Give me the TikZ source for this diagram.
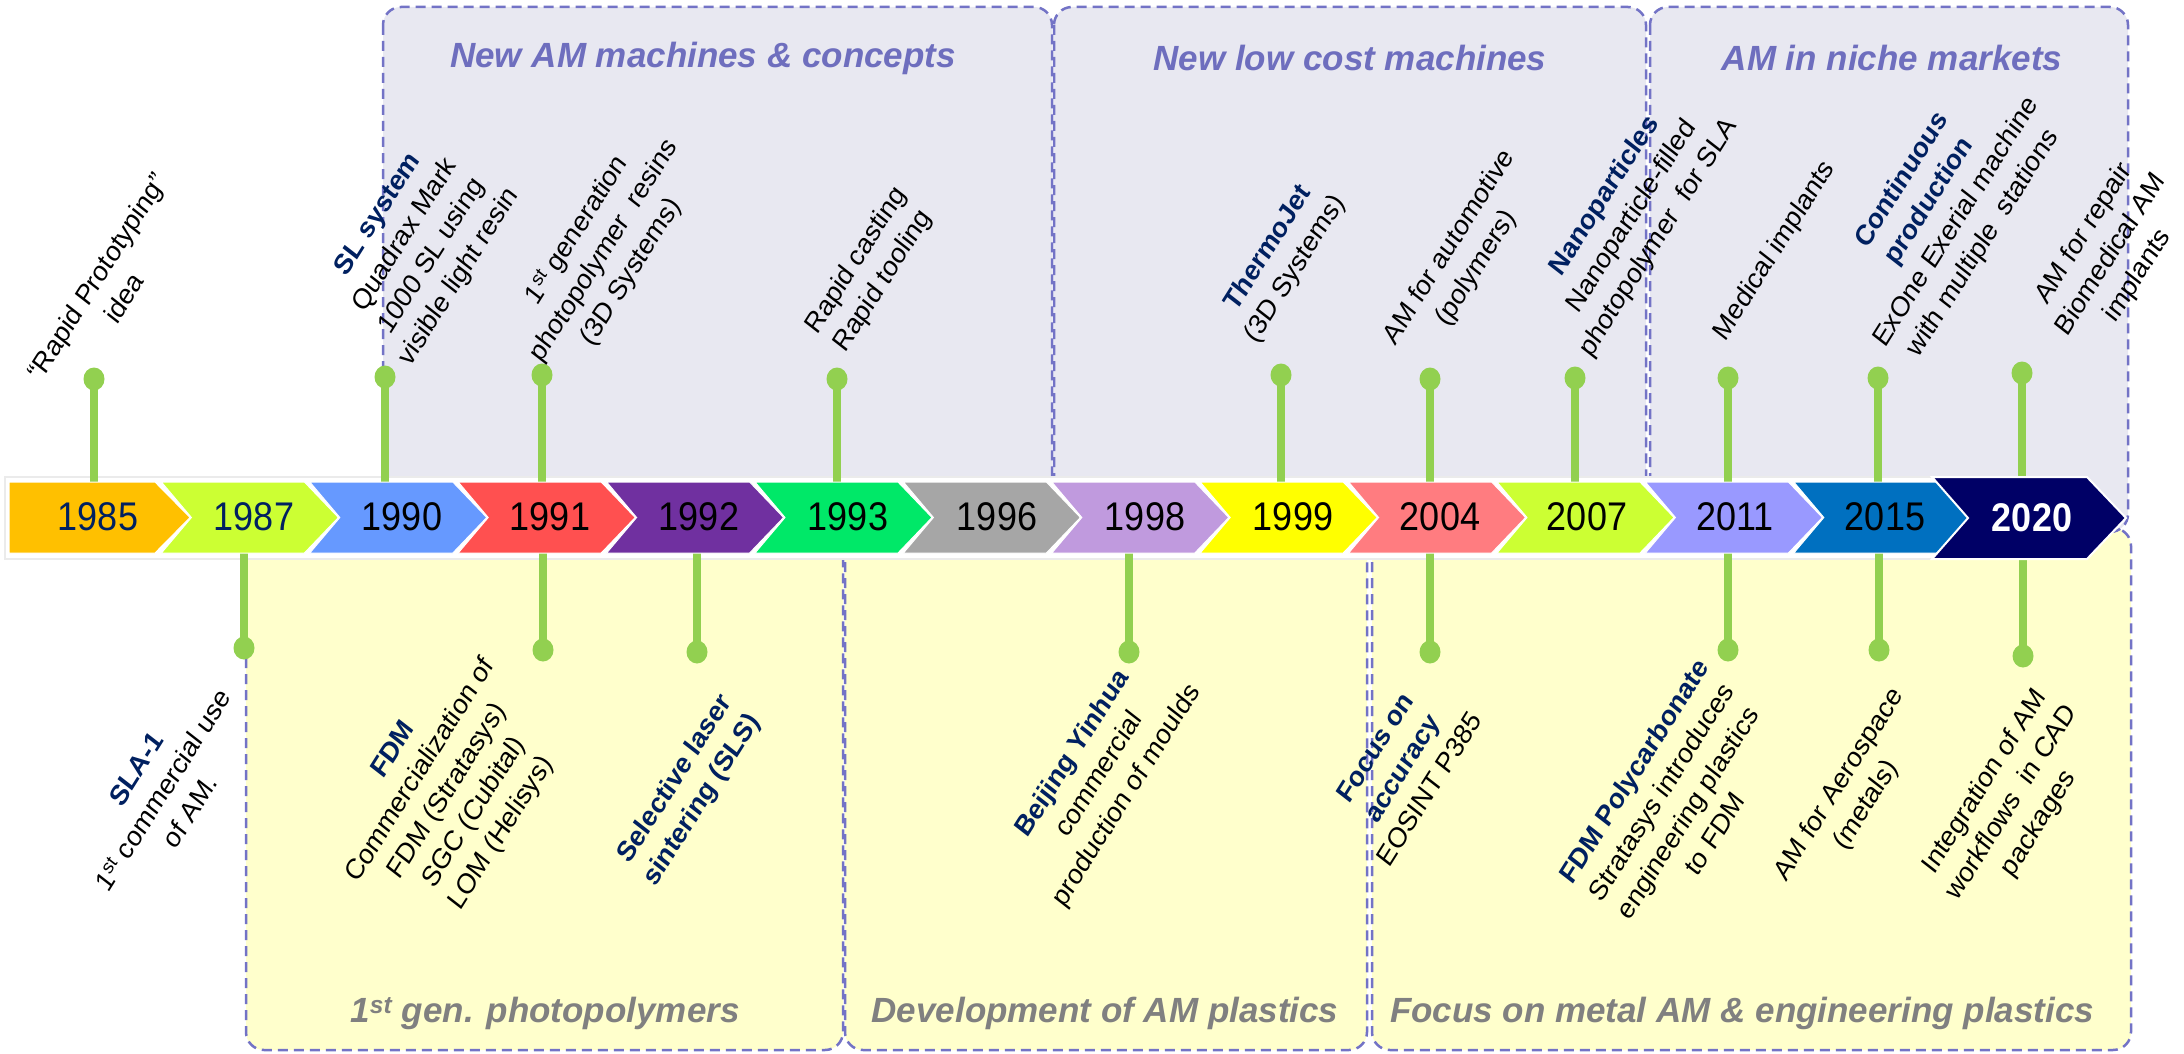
\documentclass[tikz,border=0pt]{standalone}
\usepackage{fontspec}
\setmainfont{Liberation Sans}
\usetikzlibrary{shapes.geometric}

\definecolor{panelA}{HTML}{E8E8F1}
\definecolor{panelB}{HTML}{FFFFCC}
\definecolor{edgec}{HTML}{7373C6}
\definecolor{ttlc}{HTML}{6E6EBE}
\definecolor{greyc}{HTML}{808080}
\definecolor{stemc}{HTML}{92D050}
\definecolor{navyt}{HTML}{002060}
% ribbon colours
\definecolor{c85}{HTML}{FFC000}
\definecolor{c87}{HTML}{CCFF33}
\definecolor{c90}{HTML}{6699FF}
\definecolor{c91}{HTML}{FF5050}
\definecolor{c92}{HTML}{7030A0}
\definecolor{c93}{HTML}{00E868}
\definecolor{c96}{HTML}{A6A6A6}
\definecolor{c98}{HTML}{C09ADE}
\definecolor{c99}{HTML}{FFFF00}
\definecolor{c04}{HTML}{FF7C80}
\definecolor{c07}{HTML}{CCFF33}
\definecolor{c11}{HTML}{9999FF}
\definecolor{c15}{HTML}{0070C0}
\definecolor{c20}{HTML}{000066}

\newcommand\evhead[1]{{\color{navyt}\bfseries #1}}

\begin{document}
\begin{tikzpicture}[x=1pt,y=-1pt,
  panelbase/.style={draw=edgec, line width=2.5pt, dash pattern=on 10pt off 6pt, rounded corners=18pt},
  toppanel/.style={panelbase, fill=panelA},
  botpanel/.style={panelbase, fill=panelB},
  toptitle/.style={font=\fontsize{35}{41}\selectfont\bfseries\itshape, text=ttlc, inner sep=0pt},
  bottitle/.style={font=\fontsize{35}{41}\selectfont\bfseries\itshape, text=greyc, inner sep=0pt},
  stem/.style={draw=stemc, line width=8pt},
  knob/.style={ellipse, fill=stemc, minimum width=21pt, minimum height=23pt, inner sep=0pt},
  yr/.style={font=\fontsize{40}{48}\selectfont, inner sep=0pt, xscale=0.9},
  lbl/.style={font=\fontsize{28.5}{36.5}\selectfont, align=center, inner sep=0pt, transform shape, rotate=55}
]
\useasboundingbox (0,0) rectangle (2184,1054);

% ---- period panels ----
\draw[botpanel] (246,528) rectangle (843,1050);
\draw[botpanel] (845,528) rectangle (1367,1050);
\draw[botpanel] (1372,528) rectangle (2131,1050);
\draw[toppanel] (383,7) rectangle (1052,532);
\draw[toppanel] (1054,7) rectangle (1646,532);
\draw[toppanel] (1650,7) rectangle (2128,532);

\node[toptitle] (t1) at (703,58) {New AM machines \& concepts};
\node[toptitle] (t2) at (1350,58) {New low cost machines};
\node[toptitle] (t3) at (1892,58) {AM in niche markets};
\node[bottitle] (b1) at (545,1013) {1\textsuperscript{st} gen. photopolymers};
\node[bottitle] (b2) at (1105,1013) {Development of AM plastics};
\node[bottitle] (b3) at (1742,1013) {Focus on metal AM \& engineering plastics};

% ---- band behind the ribbon ----
\draw[fill=white, draw=black!8, line width=1.5pt] (5,477) rectangle (1950,559);
\coordinate (rmid) at (0,517);

% ---- knob positions ----
\coordinate (u85) at (94,379);
\coordinate (u90) at (385,377);
\coordinate (u91) at (542,375);
\coordinate (u93) at (837,379);
\coordinate (u99) at (1281,375);
\coordinate (u04) at (1430,379);
\coordinate (u07) at (1575,378);
\coordinate (u11) at (1728,378);
\coordinate (u15) at (1878,378);
\coordinate (u20) at (2022,373);
\coordinate (l87) at (244,648);
\coordinate (l91) at (543,650);
\coordinate (l92) at (697,652);
\coordinate (l98) at (1129,652);
\coordinate (l04) at (1430,652);
\coordinate (l11) at (1728,650);
\coordinate (l15) at (1879,650);
\coordinate (l20) at (2023,656);

% ---- stems ----
\foreach \p in {u85,u90,u91,u93,u99,u04,u07,u11,u15,u20,l87,l91,l92,l98,l04,l11,l15,l20}
  \draw[stem] (\p) -- (\p |- rmid);

% ---- ribbon ----
\fill[c85, draw=white, line width=1pt] (9,482) -- (155,482) -- (190,517.5) -- (155,553) -- (9,553) -- cycle;
\foreach \i/\c in {1/c87,2/c90,3/c91,4/c92,5/c93,6/c96,7/c98,8/c99,9/c04,10/c07,11/c11,12/c15}{
  \pgfmathsetmacro\L{13+148.4*\i}
  \fill[\c, draw=white, line width=1pt] (\L,482) -- (\L+143,482) -- (\L+177,517.5) -- (\L+143,553) -- (\L,553) -- (\L+30,517.5) -- cycle;
}
\fill[c20, draw=white, line width=2pt] (1932,477) -- (2087,477) -- (2126,518) -- (2087,559) -- (1932,559) -- (1968,518) -- cycle;

\node[yr, text=navyt] (y85) at (98,517) {1985};
\node[yr, text=navyt] (y87) at (254,517) {1987};
\node[yr] (y90) at (402,517) {1990};
\node[yr] (y91) at (550,517) {1991};
\node[yr] (y92) at (699,517) {1992};
\node[yr] (y93) at (848,517) {1993};
\node[yr] (y96) at (997,517) {1996};
\node[yr] (y98) at (1145,517) {1998};
\node[yr] (y99) at (1293,517) {1999};
\node[yr] (y04) at (1440,517) {2004};
\node[yr] (y07) at (1587,517) {2007};
\node[yr] (y11) at (1735,517) {2011};
\node[yr] (y15) at (1885,517) {2015};
\node[yr, text=white, font=\fontsize{40}{48}\selectfont\bfseries] (y20) at (2032,518) {2020};

% ---- knobs ----
\foreach \p in {u85,u90,u91,u93,u99,u04,u07,u11,u15,u20,l87,l91,l92,l98,l04,l11,l15,l20}
  \node[knob] (k\p) at (\p) {};

% ---- event texts: slanted lines, narrowed horizontally by the scope ----
\begin{scope}[xscale=0.9]
% above the ribbon
\node[lbl] (e85) at ({110/0.9},287) {“Rapid Prototyping”\\idea};
\node[lbl] (e90) at ({419/0.9},246) {\evhead{SL system}\\Quadrax Mark\\1000 SL using\\visible light resin};
\node[lbl] (e91) at ({604/0.9},251) {1\textsuperscript{st} generation\\photopolymer\ \ resins\\(3D Systems)};
\node[lbl] (e93) at ({870/0.9},271) {Rapid casting\\Rapid tooling};
\node[lbl] (e99) at ({1282/0.9},259) {\evhead{ThermoJet}\\(3D Systems)};
\node[lbl] (e04) at ({1463/0.9},258) {AM for automotive\\(polymers)};
\node[lbl] (e07) at ({1632/0.9},217) {\evhead{Nanoparticles}\\Nanoparticle-filled\\photopolymer\ \ for SLA};
\node[lbl] (e11) at ({1775/0.9},251) {Medical implants};
\node[lbl] (e15) at ({1943/0.9},212) {\evhead{Continuous}\\\evhead{production}\\ExOne Exerial machine\\with multiple\ \ stations};
\node[lbl] (e20) at ({2111/0.9},255) {AM for repair\\Biomedical AM\\implants};
% below the ribbon
\node[lbl] (f87) at ({163/0.9},790) {\evhead{SLA-1}\\1\textsuperscript{st} commercial use\\of AM.};
\node[lbl] (f91) at ({448/0.9},792) {\evhead{FDM}\\Commercialization of\\FDM (Stratasys)\\SGC (Cubital)\\LOM (Helisys)};
\node[lbl] (f92) at ({689/0.9},790) {\evhead{Selective laser}\\\evhead{sintering (SLS)}};
\node[lbl] (f98) at ({1100/0.9},775) {\evhead{Beijing Yinhua}\\commercial\\production of moulds};
\node[lbl] (f04) at ({1402/0.9},768) {\evhead{Focus on}\\\evhead{accuracy}\\EOSINT P385};
\node[lbl] (f11) at ({1674/0.9},802) {\evhead{FDM Polycarbonate}\\Stratasys introduces\\engineering plastics\\to FDM};
\node[lbl] (f15) at ({1853/0.9},795) {AM for Aerospace\\(metals)};
\node[lbl] (f20) at ({2012/0.9},803) {Integration of AM\\workflows\ \ in CAD\\packages};
\end{scope}
\end{tikzpicture}
\end{document}
